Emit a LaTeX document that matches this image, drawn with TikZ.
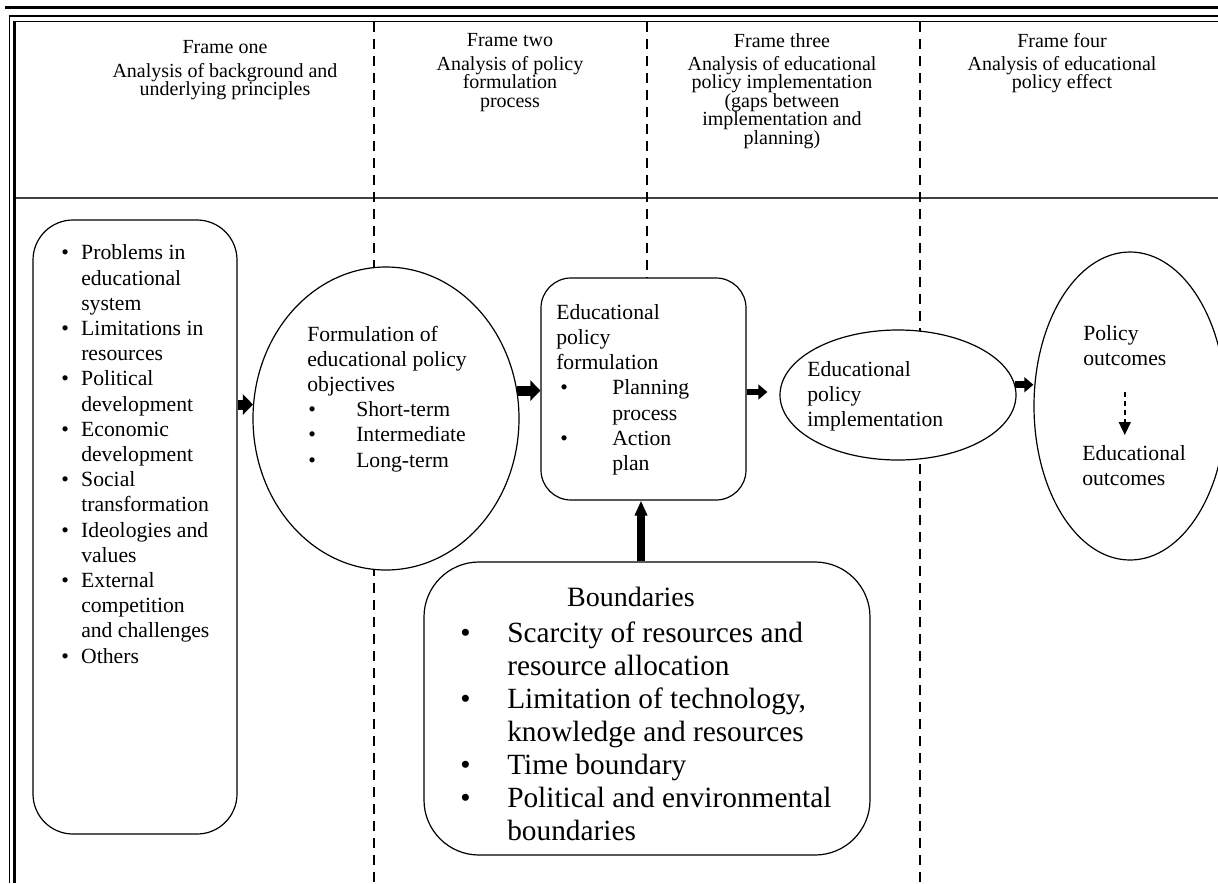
\documentclass[tikz,border=0pt]{standalone}
\usepackage{fontspec}
\setmainfont{Liberation Serif}
\usetikzlibrary{shapes.geometric,arrows.meta,calc}
\newdimen\pxu \pxu=0.75pt
\newcommand\bl[2]{\makebox[#1\pxu][l]{\hspace{#2\pxu}\textbullet}}
\newcommand\ind[1]{\makebox[#1\pxu]{}}
\begin{document}
\begin{tikzpicture}[x=0.75pt,y=-0.75pt]
\tikzset{
 sep/.style={line width=1.5\pxu, dash pattern=on 10\pxu off 7\pxu},
 rbox/.style={draw, line width=1.2\pxu, fill=white, inner sep=0pt},
 ell/.style={draw, ellipse, line width=1.2\pxu, fill=white, inner sep=0pt},
 body/.style={font=\fontsize{16.25}{18.9}\selectfont, inner sep=0pt, align=left},
 hdr/.style={font=\fontsize{15}{13.9}\selectfont, inner sep=0pt, align=center},
 bigarrow/.style={line width=7.5pt, -{Triangle[length=7.5pt,width=15pt]}},
 midarrow/.style={line width=5pt, -{Triangle[length=6.75pt,width=11pt]}},
 uparrow/.style={line width=6pt, -{Triangle[length=11.25pt,width=9pt]}},
 dasharrow/.style={line width=1.1pt, dash pattern=on 3.75pt off 3pt, -{Triangle[length=9.75pt,width=9pt]}},
}
\useasboundingbox (0,0) rectangle (1218,883);
% frame
\draw[line width=3.5\pxu] (5,7.5) -- (1218,7.5);
\draw[line width=1.5\pxu] (9.5,883) -- (9.5,16) -- (1218,16);
\draw[line width=1.5\pxu] (13,21.5) -- (1218,21.5);
\draw[line width=3.5\pxu] (14.5,20.75) -- (14.5,883);
\draw[line width=1.3\pxu, black!75] (16,198) -- (1218,198);
% separators
\coordinate (s1t) at (374,22); \coordinate (s1b) at (374,883);
\coordinate (s2t) at (647,22); \coordinate (s2b) at (647,278);
\coordinate (s3t) at (920,22); \coordinate (s3b) at (920,883);
\draw[sep] (s1t) -- (s1b);
\draw[sep] (s2t) -- (s2b);
\draw[sep] (s3t) -- (s3b);
% headers
\node[hdr, anchor=north] (h1) at (225,40) {Frame one};
\node[hdr, anchor=north] (h1t) at (225,63) {Analysis of background and\\underlying principles};
\node[hdr, anchor=north] (h2) at (510,33) {Frame two};
\node[hdr, anchor=north] (h2t) at (510,56) {Analysis of policy\\formulation\\process};
\node[hdr, anchor=north] (h3) at (782,33) {Frame three};
\node[hdr, anchor=north] (h3t) at (782,56) {Analysis of educational\\policy implementation\\(gaps between\\implementation and\\planning)};
\node[hdr, anchor=north] (h4) at (1062,33) {Frame four};
\node[hdr, anchor=north] (h4t) at (1062,56) {Analysis of educational\\policy effect};
% shapes
\node[rbox, rounded corners=40\pxu, minimum width=204\pxu, minimum height=614\pxu] (lbox) at (135,527) {};
\node[ell, minimum width=266\pxu, minimum height=303\pxu] (e1) at (386,418.5) {};
\node[rbox, rounded corners=30\pxu, minimum width=205\pxu, minimum height=222\pxu] (b2) at (643.5,389) {};
\node[ell, minimum width=236\pxu, minimum height=130\pxu] (e2) at (898,395) {};
\node[ell, minimum width=192\pxu, minimum height=308\pxu] (e3) at (1130,406) {};
\node[rbox, rounded corners=55\pxu, minimum width=446\pxu, minimum height=293\pxu] (bbox) at (647,708.5) {};
% texts
\node[body, anchor=north west] (lt) at (61,244.5) {\bl{20}{0}Problems in\\\ind{20}educational\\\ind{20}system\\
\bl{20}{0}Limitations in\\\ind{20}resources\\
\bl{20}{0}Political\\\ind{20}development\\
\bl{20}{0}Economic\\\ind{20}development\\
\bl{20}{0}Social\\\ind{20}transformation\\
\bl{20}{0}Ideologies and\\\ind{20}values\\
\bl{20}{0}External\\\ind{20}competition\\\ind{20}and challenges\\
\bl{20}{0}Others};
\node[body, anchor=north west] (e1t) at (307,325.5) {Formulation of\\educational policy\\objectives\\\bl{49}{1}Short-term\\\bl{49}{1}Intermediate\\\bl{49}{1}Long-term};
\node[body, anchor=north west] (b2t) at (556,304) {Educational\\policy\\formulation\\\bl{56}{4}Planning\\\ind{56}process\\\bl{56}{4}Action\\\ind{56}plan};
\node[body, anchor=north west] (e2t) at (807,361) {Educational\\policy\\implementation};
\node[body, anchor=north west] (po) at (1083,325) {Policy\\outcomes};
\node[body, anchor=north west] (eo) at (1082,445) {Educational\\outcomes};
\node[inner sep=0pt, anchor=north, font=\fontsize{21}{24}\selectfont] (bt) at (631,587) {Boundaries};
\node[inner sep=0pt, anchor=north west, align=left, font=\fontsize{22}{24.75}\selectfont] (bitems) at (460,622) {\bl{47}{0}Scarcity of resources and\\\ind{47}resource allocation\\
\bl{47}{0}Limitation of technology,\\\ind{47}knowledge and resources\\
\bl{47}{0}Time boundary\\
\bl{47}{0}Political and environmental\\\ind{47}boundaries};
% arrows
\draw[bigarrow] (lbox.east |- e1.174) -- (e1.174);
\draw[bigarrow] (e1.12) -- (e1.12 -| b2.west);
\draw[midarrow] ([yshift=-2.25pt]b2.east) -- ($([yshift=-2.25pt]b2.east -| e2.west)+(-12,0)$);
\draw[midarrow] (e2.5) -- (e2.5 -| e3.west);
\draw[uparrow] ([xshift=-4.5pt]bbox.north) -- ([xshift=-4.5pt]bbox.north |- b2.south);
\draw[dasharrow, shorten <=19.5pt, shorten >=7.5pt] (po.south) -- (po.south |- eo.north);
\end{tikzpicture}
\end{document}
